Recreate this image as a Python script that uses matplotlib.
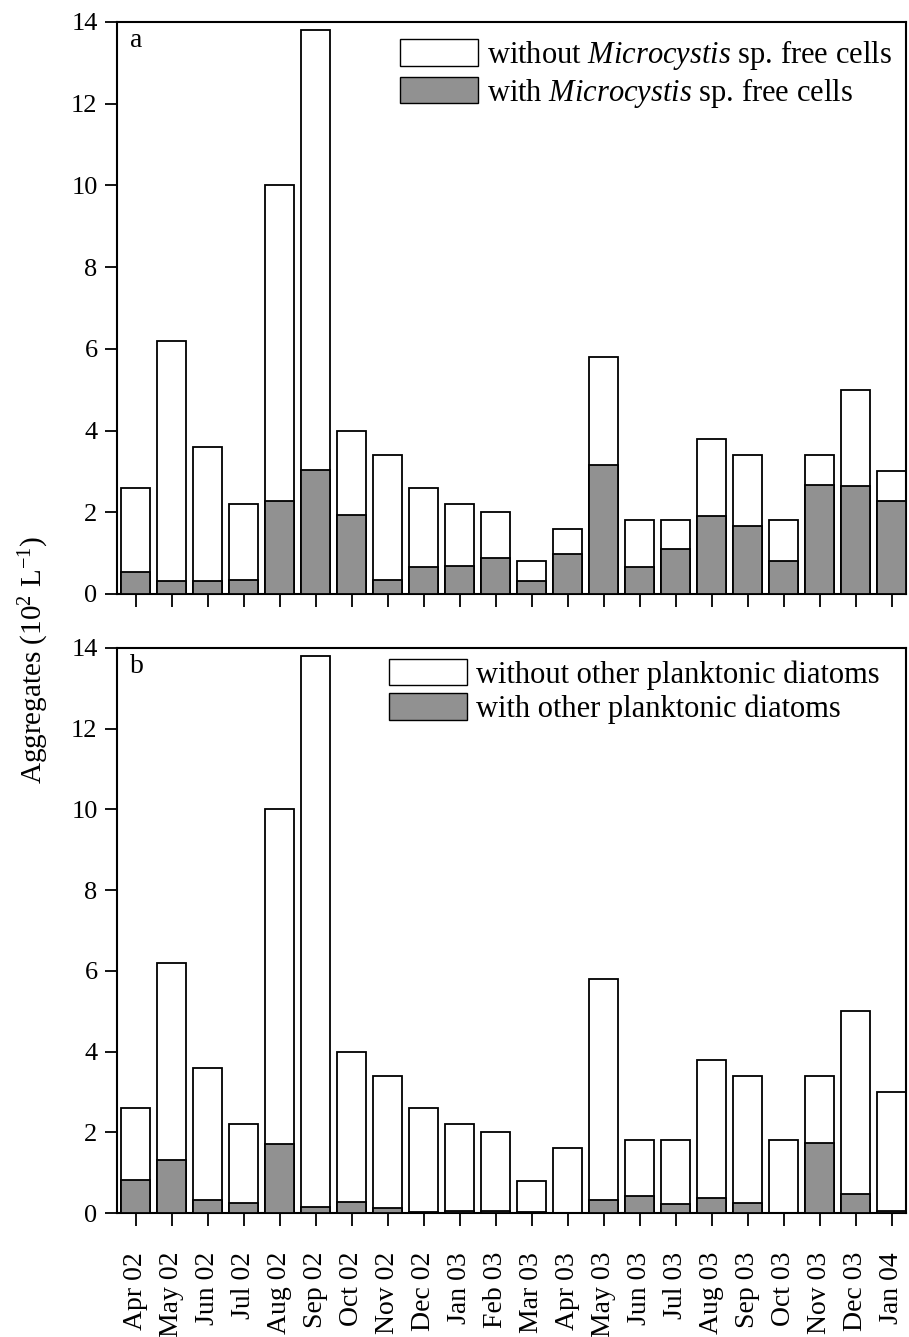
import matplotlib
matplotlib.use("Agg")
import matplotlib.pyplot as plt
import numpy as np
from matplotlib.patches import Patch

plt.rcParams['font.family'] = ['Liberation Serif', 'DejaVu Serif']
plt.rcParams['mathtext.fontset'] = 'custom'
plt.rcParams['mathtext.rm'] = 'Liberation Serif'
plt.rcParams['mathtext.it'] = 'Liberation Serif:italic'

months = ["Apr 02", "May 02", "Jun 02", "Jul 02", "Aug 02", "Sep 02", "Oct 02",
          "Nov 02", "Dec 02", "Jan 03", "Feb 03", "Mar 03", "Apr 03", "May 03",
          "Jun 03", "Jul 03", "Aug 03", "Sep 03", "Oct 03", "Nov 03", "Dec 03",
          "Jan 04"]
total = [2.6, 6.2, 3.6, 2.2, 10.0, 13.8, 4.0, 3.4, 2.6, 2.2, 2.0, 0.8, 1.6,
         5.8, 1.8, 1.8, 3.8, 3.4, 1.8, 3.4, 5.0, 3.0]
with_microcystis = [0.55, 0.33, 0.33, 0.34, 2.28, 3.04, 1.94, 0.34, 0.65, 0.69,
                    0.87, 0.31, 0.97, 3.15, 0.67, 1.11, 1.91, 1.67, 0.80, 2.68,
                    2.64, 2.27]
with_diatoms = [0.83, 1.31, 0.32, 0.26, 1.70, 0.14, 0.27, 0.12, 0.02, 0.04,
                0.05, 0.03, 0.01, 0.32, 0.41, 0.22, 0.37, 0.24, 0.01, 1.74,
                0.48, 0.05]

W, H = 909, 1337
fig = plt.figure(figsize=(W / 100, H / 100), dpi=100)

def px_axes(left, top, right, bottom):
    return fig.add_axes([left / W, 1 - bottom / H, (right - left) / W, (bottom - top) / H])

ax1 = px_axes(117, 22, 906, 594)
ax2 = px_axes(117, 648, 906, 1213)

gray = '#919191'
x = np.arange(len(months))

legends = [
    ("without $\\mathit{Microcystis}$ sp. free cells", "with $\\mathit{Microcystis}$ sp. free cells"),
    ("without other planktonic diatoms", "with other planktonic diatoms"),
]

for ax, part, lab, leg, anchor in [
        (ax1, with_microcystis, "a", legends[0], (400 / W, 1 - 38 / H)),
        (ax2, with_diatoms, "b", legends[1], (389 / W, 1 - 659 / H))]:
    ax.bar(x, total, width=0.81, color='white', edgecolor='black', linewidth=1.3, zorder=2)
    ax.bar(x, part, width=0.81, color=gray, edgecolor='black', linewidth=1.3, zorder=3)
    ax.set_xlim(-0.52, 21.4)
    ax.set_ylim(0, 14)
    ax.set_yticks(np.arange(0, 15, 2))
    ax.set_xticks(x)
    ax.tick_params(axis='both', direction='out', length=9, width=1.3,
                   top=False, right=False)
    ax.tick_params(axis='y', labelsize=19, pad=5)
    ax.tick_params(axis='x', labelsize=20, pad=19)
    for s in ax.spines.values():
        s.set_linewidth(1.5)
    ax.text(0.0165, 0.956, lab, transform=ax.transAxes, fontsize=20, va='baseline', ha='left')
    handles = [Patch(facecolor='white', edgecolor='black', linewidth=1.0),
               Patch(facecolor=gray, edgecolor='black', linewidth=1.0)]
    ax.legend(handles, leg, loc='upper left', bbox_to_anchor=anchor,
              bbox_transform=fig.transFigure, frameon=False,
              fontsize=22, handlelength=2.55, handleheight=0.95, handletextpad=0.29,
              labelspacing=0.12, borderaxespad=0, borderpad=0)

ax1.set_xticklabels([])
ax2.set_xticklabels(months, rotation=90)

fig.text(0.037, 1 - 660 / H, "Aggregates (10$^{2}$ L$^{-1}$)", rotation=90, fontsize=21,
         ha='center', va='center')

fig.savefig("out.png", dpi=100)
